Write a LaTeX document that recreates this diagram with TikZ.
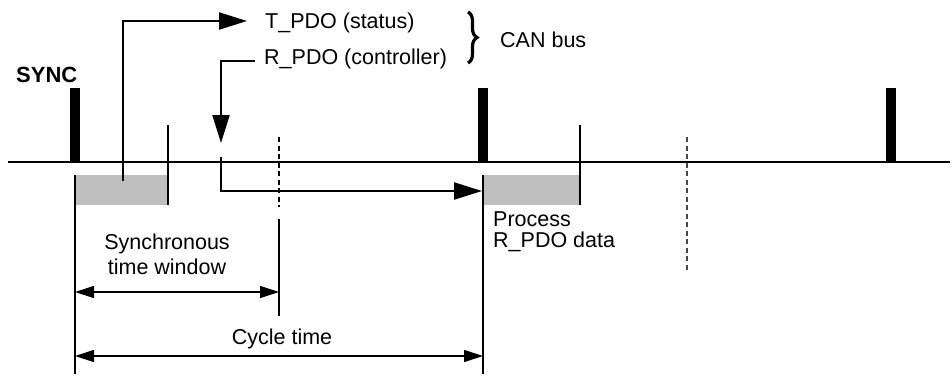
\documentclass[tikz,border=0pt]{standalone}
\usepackage{fontspec}
\setmainfont{Liberation Sans}
\usetikzlibrary{arrows.meta,decorations.pathreplacing}
\definecolor{boxgray}{RGB}{190,190,190}
\definecolor{dashgray}{RGB}{70,70,70}
\begin{document}
\begin{tikzpicture}[x=1pt,y=-1pt,
  lbl/.style={inner sep=0pt, font=\fontsize{21.5}{25}\selectfont},
  boldlbl/.style={inner sep=0pt, font=\bfseries\fontsize{22}{26}\selectfont},
  hair/.style={line width=1.2pt},
  thickline/.style={line width=2.2pt},
  bigarrow/.style={thickline, -{Triangle[length=28pt,width=17pt]}},
  dimarrow/.style={hair, {Triangle[length=19pt,width=12pt]}-{Triangle[length=19pt,width=12pt]}},
  dashedline/.style={hair, dash pattern=on 5pt off 3.5pt},
  pulse/.style={fill=black, draw=none, inner sep=0pt, minimum width=10pt, minimum height=74pt, anchor=south west},
  graybox/.style={fill=boxgray, draw=none, inner sep=0pt, anchor=north west, minimum height=30pt}
]
\useasboundingbox (0,0) rectangle (952,375);

% gray processing boxes
\node[graybox, minimum width=93pt] (w1) at (75,175) {};
\node[graybox, minimum width=97pt] (w2) at (483,175) {};

% SYNC pulses
\node[pulse] (s1) at (70,162) {};
\node[pulse] (s2) at (478,162) {};
\node[pulse] (s3) at (886,162) {};

% timeline
\coordinate (tl0) at (8,162);
\coordinate (tl1) at (950,162);
\draw[thickline] (tl0) -- (tl1);

% thin end-of-window markers
\coordinate (m1a) at (168,125); \coordinate (m1b) at (168,205);
\coordinate (m2a) at (580,125); \coordinate (m2b) at (580,205);
\draw[hair] (m1a) -- (m1b);
\draw[hair] (m2a) -- (m2b);

% long verticals
\coordinate (l1a) at (75,175); \coordinate (l1b) at (75,374);
\coordinate (l2a) at (483,175); \coordinate (l2b) at (483,374);
\draw[hair] (l1a) -- (l1b);
\draw[hair] (l2a) -- (l2b);

% dashed / synchronous window end
\coordinate (d1a) at (279,137); \coordinate (d1b) at (279,207);
\coordinate (d1c) at (279,219); \coordinate (d1d) at (279,316);
\draw[dashedline] (d1a) -- (d1b);
\draw[hair] (d1c) -- (d1d);
\coordinate (d2a) at (687,137); \coordinate (d2b) at (687,271);
\draw[dashedline, dashgray] (d2a) -- (d2b);

% T_PDO arrow
\coordinate (ta) at (123,181);
\coordinate (tb) at (247,21);
\draw[bigarrow] (ta) |- (tb);

% R_PDO arrows
\coordinate (ra) at (255,61);
\coordinate (rb) at (221,143);
\draw[bigarrow] (ra) -| (rb);
\coordinate (rc) at (221,157);
\coordinate (rd) at (482,191);
\draw[bigarrow] (rc) |- (rd);

% dimension arrows
\coordinate (sw0) at (75,292); \coordinate (sw1) at (279,292);
\draw[dimarrow] (sw0) -- (sw1);
\coordinate (ct0) at (75,356); \coordinate (ct1) at (483,356);
\draw[dimarrow] (ct0) -- (ct1);

% brace
\coordinate (br0) at (468,12); \coordinate (br1) at (468,63);
\draw[line width=3.2pt, decorate, decoration={brace, amplitude=9pt}] (br0) -- (br1);

% labels
\node[boldlbl, anchor=base west] (sync) at (16,82) {SYNC};
\node[lbl, anchor=base west] (tpdo) at (265,28) {T\_PDO (status)};
\node[lbl, anchor=base west] (rpdo) at (264,64) {R\_PDO (controller)};
\node[lbl, anchor=base west] (can) at (500,47) {CAN bus};
\node[lbl, anchor=base] (syn1) at (167,249) {Synchronous};
\node[lbl, anchor=base] (syn2) at (167,274) {time window};
\node[lbl, anchor=base] (cyc) at (282,344) {Cycle time};
\node[lbl, anchor=base west] (proc1) at (493,226) {Process};
\node[lbl, anchor=base west] (proc2) at (493,247) {R\_PDO data};
\end{tikzpicture}
\end{document}
